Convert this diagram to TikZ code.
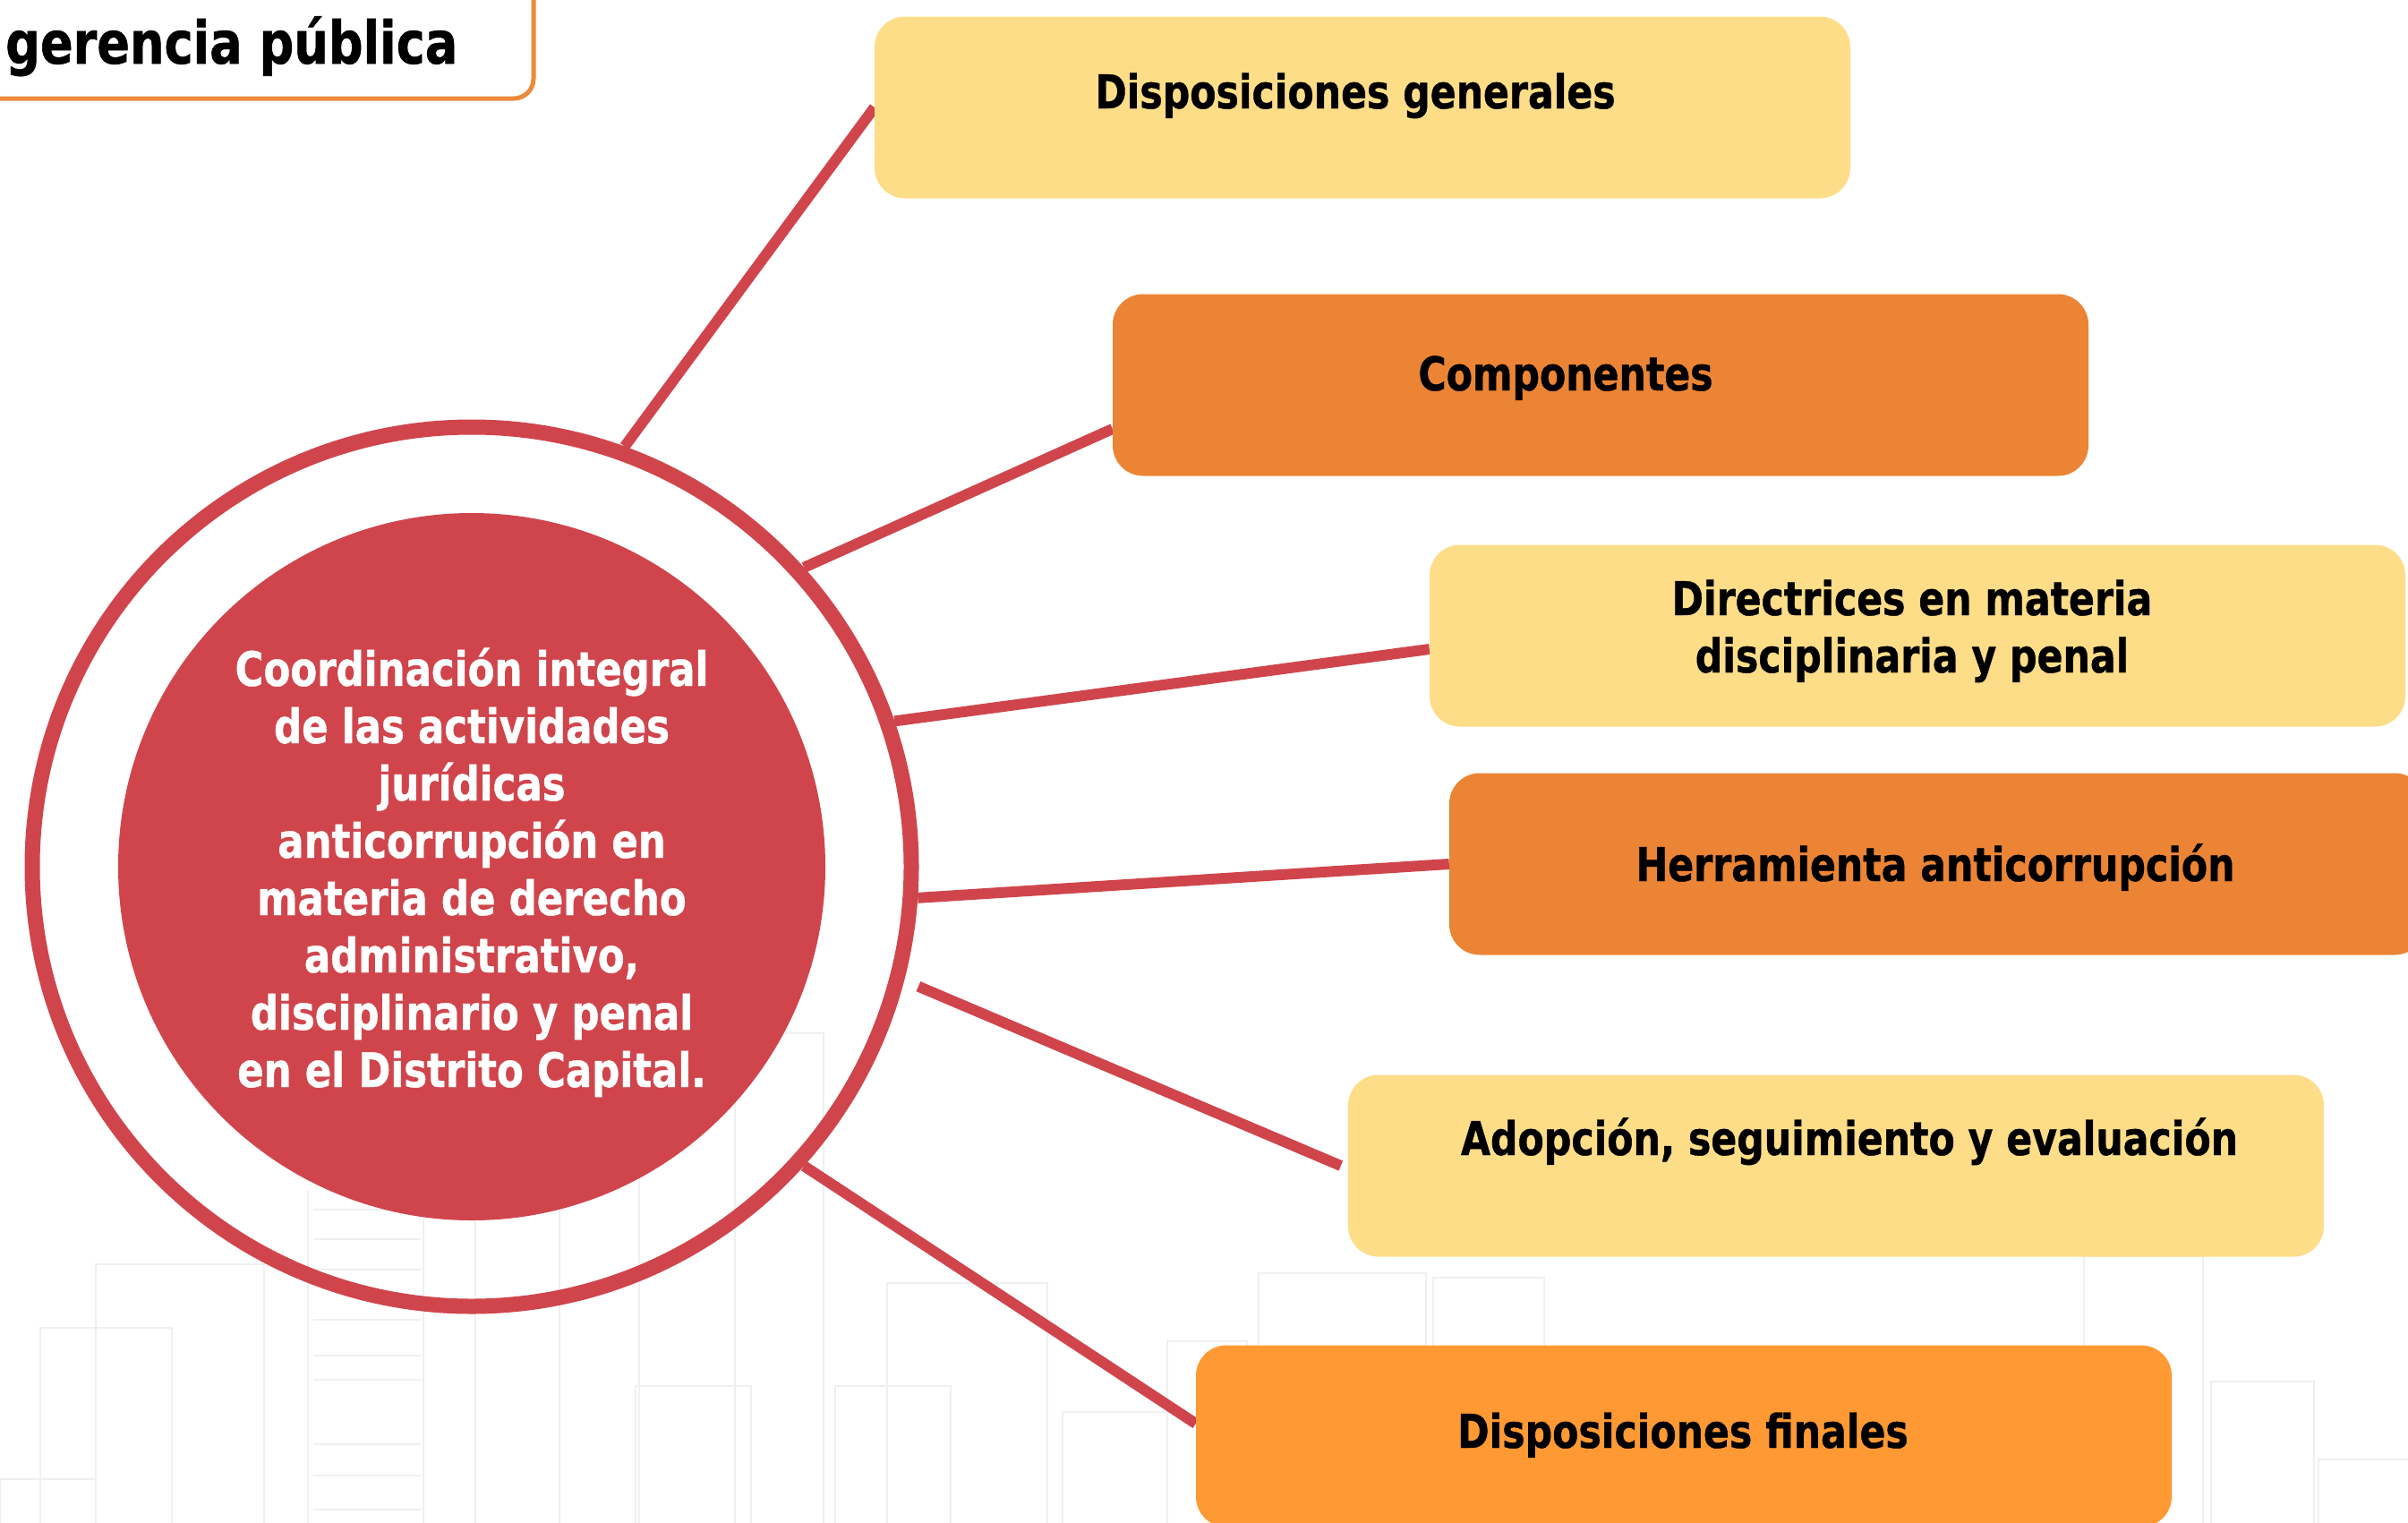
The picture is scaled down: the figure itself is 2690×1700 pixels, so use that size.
\documentclass[tikz,border=0pt]{standalone}
\usepackage{fontspec}
\setmainfont{DejaVu Sans}[FakeStretch=0.82, BoldFeatures={FakeBold=0.8}]
\usetikzlibrary{calc}
\definecolor{cred}{HTML}{D0454C}
\definecolor{cyel}{HTML}{FDDD88}
\definecolor{corg}{HTML}{EB8434}
\definecolor{corgb}{HTML}{FF9933}
\definecolor{ctitle}{HTML}{ED8A3A}
\definecolor{cbldg}{HTML}{F0F0F0}
\pgfdeclarelayer{bglayer}
\pgfdeclarelayer{linelayer}
\pgfsetlayers{bglayer,linelayer,main}
\begin{document}
\begin{tikzpicture}[x=1pt,y=-1pt,
  boxnode/.style={rounded corners=34pt, minimum width=1090pt, minimum height=203pt, inner sep=0pt, draw=none},
  boxtext/.style={anchor=base, inner sep=0pt, font=\fontsize{52}{64}\selectfont\bfseries, text=black, align=center},
  conn/.style={draw=cred, line width=12pt},
  bldg/.style={draw=cbldg, line width=2.5pt}]
\useasboundingbox (0,0) rectangle (2690,1700);

% faint city sketch
\begin{pgfonlayer}{bglayer}
\fill[white] (0,0) rectangle (2690,1700);
\draw[bldg] (0,1652) rectangle (107,1720);
\draw[bldg] (45,1483) rectangle (192,1720);
\draw[bldg] (107,1412) rectangle (295,1720);
\draw[bldg] (344,1330) -- (344,1720) (473,1330) -- (473,1720);
\foreach \yy in {1351,1384,1418,1474,1514,1541,1613,1648,1686}
  \draw[bldg] (350,\yy) -- (470,\yy);
\draw[bldg] (531,1300) -- (531,1720) (625,1300) -- (625,1720) (714,1300) -- (714,1720);
\draw[bldg] (710,1548) rectangle (839,1720);
\draw[bldg] (821,1154) rectangle (920,1720);
\draw[bldg] (933,1548) rectangle (1062,1720);
\draw[bldg] (991,1433) rectangle (1170,1720);
\draw[bldg] (1187,1577) rectangle (1304,1720);
\draw[bldg] (1304,1498) rectangle (1393,1720);
\draw[bldg] (1406,1422) rectangle (1593,1720);
\draw[bldg] (1601,1427) rectangle (1725,1720);
\draw[bldg] (2328,1403) rectangle (2461,1720);
\draw[bldg] (2470,1543) rectangle (2585,1720);
\draw[bldg] (2590,1630) rectangle (2700,1720);
\end{pgfonlayer}

% title
\draw[ctitle, line width=5pt, rounded corners=22pt] (-40,-40) rectangle (596,110);
\node[anchor=base west, inner sep=0pt, font=\fontsize{66}{70}\selectfont\bfseries] (title) at (6,71) {gerencia pública};

% central circle
\node[circle, draw=cred, line width=17pt, minimum size=982pt, inner sep=0pt, outer sep=8.5pt] (ring) at (527,968) {};
\node[circle, fill=cred, minimum size=790pt, inner sep=0pt] (core) at (527,968) {};
\node[anchor=base, inner sep=0pt, align=center, text=white, font=\fontsize{53}{64}\selectfont\bfseries] (coretext) at (527,1214)
 {Coordinación integral\\de las actividades\\jurídicas\\anticorrupción en\\materia de derecho\\administrativo,\\disciplinario y penal\\en el Distrito Capital.};

% boxes
\node[boxnode, fill=cyel] (b1) at (1522,120) {};
\node[boxnode, fill=corg] (b2) at (1788,430) {};
\node[boxnode, fill=cyel] (b3) at (2142,710) {};
\node[boxnode, fill=corg] (b4) at (2164,965) {};
\node[boxnode, fill=cyel] (b5) at (2051,1302) {};
\node[boxnode, fill=corgb] (b6) at (1881,1604) {};

\node[boxtext] (t1) at (1514,121) {Disposiciones generales};
\node[boxtext] (t2) at (1749,436) {Componentes};
\node[boxtext] (t3) at (2136,751) {Directrices en materia\\disciplinaria y penal};
\node[boxtext] (t4) at (2162,984) {Herramienta anticorrupción};
\node[boxtext] (t5) at (2066,1290) {Adopción, seguimiento y evaluación};
\node[boxtext] (t6) at (1880,1617) {Disposiciones finales};

% connectors
\begin{pgfonlayer}{linelayer}
\draw[conn] (ring.70) -- (b1.west);
\draw[conn] (ring.42) -- ([yshift=-49pt]b2.west);
\draw[conn] (ring.19) -- ([yshift=-15pt]b3.west);
\draw[conn] (ring.-4) -- (b4.west);
\draw[conn] ($(ring.center)!1.034!(ring.-15.6)$) -- ([xshift=-8pt]b5.west);
\draw[conn] (ring.-42) -- ([yshift=14pt]b6.west);
\end{pgfonlayer}
\end{tikzpicture}
\end{document}
